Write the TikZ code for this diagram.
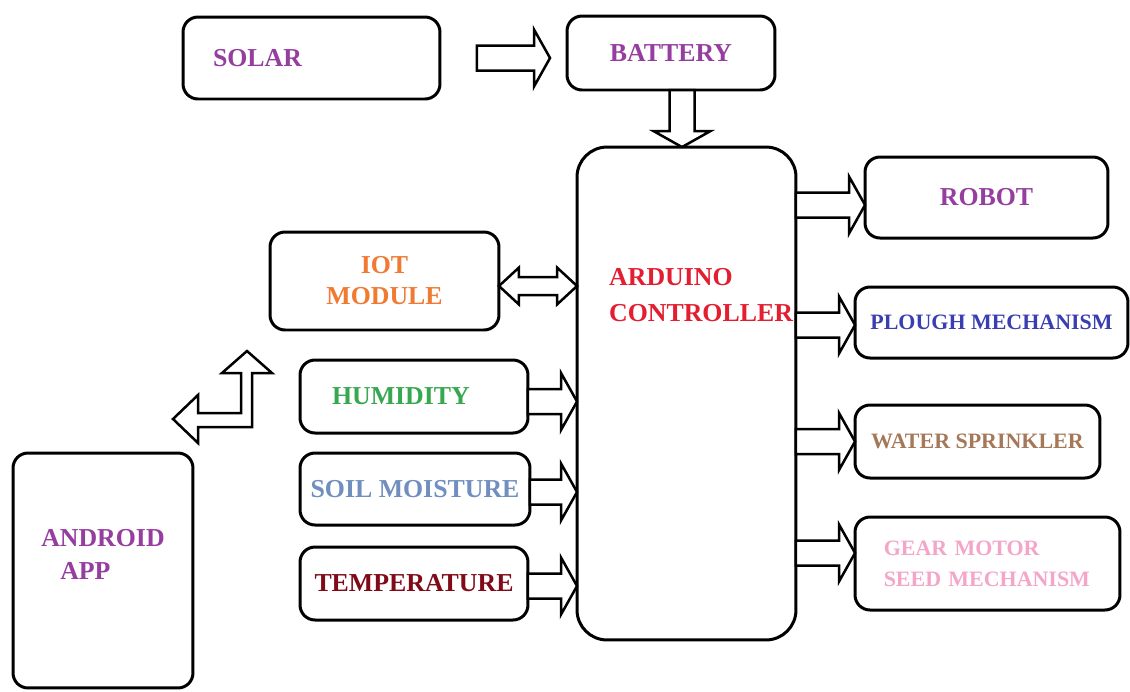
\documentclass[tikz,border=0pt]{standalone}
\usepackage{fontspec}
\setmainfont{Liberation Serif}
\usepackage{tikz}
\usetikzlibrary{calc}

\definecolor{txtpurple}{RGB}{150,62,160}
\definecolor{txtorange}{RGB}{240,122,50}
\definecolor{txtred}{RGB}{226,30,48}
\definecolor{txtgreen}{RGB}{56,168,80}
\definecolor{txtsteel}{RGB}{112,142,190}
\definecolor{txtmaroon}{RGB}{128,10,24}
\definecolor{txtblue}{RGB}{58,62,176}
\definecolor{txtbrown}{RGB}{164,120,88}
\definecolor{txtpink}{RGB}{244,166,200}

\newcommand{\arrshaft}{0.25cm}
\newcommand{\arrhead}{0.57cm}
\newcommand{\arrlen}{0.32cm}
\newcommand{\dblshaft}{0.18cm}
\newcommand{\dblhead}{0.37cm}
\newcommand{\dbllen}{0.4cm}

% hollow arrow pointing right: tail x of #1, tip x of #2, at the height of #3
\newcommand{\blockright}[3]{%
  \draw[blockarrow] let \p1=#1, \p2=#2, \p3=#3 in
    (\x1,\y3+\arrshaft) -- (\x2-\arrlen,\y3+\arrshaft) -- (\x2-\arrlen,\y3+\arrhead)
    -- (\x2,\y3) -- (\x2-\arrlen,\y3-\arrhead) -- (\x2-\arrlen,\y3-\arrshaft)
    -- (\x1,\y3-\arrshaft) -- cycle;}

% hollow arrow pointing down: tail y of #1, tip y of #2, at the x of #3
\newcommand{\blockdown}[3]{%
  \draw[blockarrow] let \p1=#1, \p2=#2, \p3=#3 in
    (\x3-\arrshaft,\y1) -- (\x3-\arrshaft,\y2+\arrlen) -- (\x3-\arrhead,\y2+\arrlen)
    -- (\x3,\y2) -- (\x3+\arrhead,\y2+\arrlen) -- (\x3+\arrshaft,\y2+\arrlen)
    -- (\x3+\arrshaft,\y1) -- cycle;}

% hollow arrow with two heads: from x of #1 to x of #2, at the height of #3
\newcommand{\blockboth}[3]{%
  \draw[blockarrow] let \p1=#1, \p2=#2, \p3=#3 in
    (\x1,\y3) -- (\x1+\dbllen,\y3+\dblhead) -- (\x1+\dbllen,\y3+\dblshaft)
    -- (\x2-\dbllen,\y3+\dblshaft) -- (\x2-\dbllen,\y3+\dblhead) -- (\x2,\y3)
    -- (\x2-\dbllen,\y3-\dblhead) -- (\x2-\dbllen,\y3-\dblshaft)
    -- (\x1+\dbllen,\y3-\dblshaft) -- (\x1+\dbllen,\y3-\dblhead) -- cycle;}

\begin{document}
\begin{tikzpicture}[
    x=0.02cm, y=-0.02cm,
    box/.style={
        rectangle, draw=black, line width=0.06cm, fill=white,
        rounded corners=0.3cm, outer sep=0pt, inner xsep=2pt
    },
    bigtext/.style={font=\bfseries\fontsize{14.7}{#1}\selectfont},
    bigtext/.default=18,
    smalltext/.style={font=\bfseries\fontsize{12.5}{#1}\selectfont},
    smalltext/.default=15,
    blockarrow/.style={
        draw=black, fill=white, line width=0.05cm, line join=miter
    }
]
    \useasboundingbox (0,0) rectangle (1130,691);

    % =========================================================================
    % POWER (TOP)
    % =========================================================================
    \node [box, bigtext, text=txtpurple, minimum height=1.64cm, align=left,
           text width=3.94cm, inner xsep=0.6cm] (sol) at (311.5,58) {SOLAR};
    \node [box, bigtext, text=txtpurple, minimum width=4.16cm, minimum height=1.48cm] (bat) at (671,53) {BATTERY};

    % =========================================================================
    % CONTROLLER (MIDDLE)
    % =========================================================================
    \node [box, rounded corners=0.6cm, minimum width=4.38cm, minimum height=9.86cm] (ctrl) at (686.5,393.5) {};
    \node [bigtext=20.5, text=txtred, align=left, anchor=west] (ctrl_txt)
          at ([xshift=0.52cm, yshift=-2.96cm]ctrl.north west) {ARDUINO\\CONTROLLER};

    % =========================================================================
    % INPUTS (LEFT)
    % =========================================================================
    \node [box, bigtext=17.6, text=txtorange, minimum width=4.58cm, minimum height=1.96cm, align=center] (iot) at (384.5,281) {IOT\\MODULE};
    \node [box, bigtext, text=txtgreen, minimum height=1.46cm, align=left,
           text width=3.28cm, inner xsep=0.64cm] (hum) at (414,396.5) {HUMIDITY};
    \node [box, bigtext, text=txtsteel, minimum width=4.6cm, minimum height=1.44cm] (soil) at (415,489) {SOIL MOISTURE};
    \node [box, bigtext, text=txtmaroon, minimum width=4.56cm, minimum height=1.46cm] (temp) at (414,583.5) {TEMPERATURE};
    \node [box, bigtext=18.8, text=txtpurple, minimum width=3.6cm, minimum height=4.7cm, align=left] (app) at (103,570.5) {ANDROID\\\hspace*{0.38cm}APP\\\mbox{}};

    % =========================================================================
    % OUTPUTS (RIGHT)
    % =========================================================================
    \node [box, bigtext, text=txtpurple, minimum width=4.86cm, minimum height=1.62cm] (rob) at (986.5,197.5) {ROBOT};
    \node [box, smalltext, text=txtblue, minimum width=5.46cm, minimum height=1.42cm] (plough) at (991.5,322.5) {PLOUGH MECHANISM};
    \node [box, smalltext, text=txtbrown, minimum width=4.9cm, minimum height=1.46cm, inner xsep=0pt] (sprk) at (977.5,441.5) {WATER SPRINKLER};
    \node [box, smalltext=17.6, text=txtpink, minimum height=1.86cm, align=left,
           text width=4.15cm, inner xsep=0.575cm] (gear) at (987.5,563.5) {\mbox{GEAR MOTOR}\\\mbox{SEED MECHANISM}};

    % =========================================================================
    % FLOWS
    % =========================================================================
    % Solar to Battery, Battery to Controller
    \blockright{([xshift=0.74cm]sol.east)}{([xshift=-0.34cm]bat.west)}{(sol.east)}
    \blockdown{(bat.south)}{(ctrl.north)}{([xshift=0.22cm]bat.south)}

    % IoT module both ways
    \blockboth{(iot.east)}{(ctrl.west)}{([yshift=-0.1cm]iot.east)}

    % Sensors into Controller
    \blockright{(hum.east)}{(ctrl.west)}{([yshift=-0.1cm]hum.east)}
    \blockright{(soil.east)}{(ctrl.west)}{([yshift=-0.06cm]soil.east)}
    \blockright{(temp.east)}{(ctrl.west)}{([yshift=-0.05cm]temp.east)}

    % Controller to actuators
    \blockright{(ctrl.east)}{(rob.west)}{([yshift=-0.15cm]rob.west)}
    \blockright{(ctrl.east)}{(plough.west)}{([yshift=-0.05cm]plough.west)}
    \blockright{(ctrl.east)}{(sprk.west)}{(sprk.west)}
    \blockright{(ctrl.east)}{(gear.west)}{([yshift=0.21cm]gear.west)}

    % Android app <-> IoT module (bent, free ends)
    \coordinate (app_tip) at (173,419);
    \coordinate (iot_tip) at (247,351);
    \draw [blockarrow] (app_tip) -- ++(25,-24) -- ++(0,18) -- ++(43,0) -- ++(0,-40) -- ++(-19,0)
        -- (iot_tip) -- ++(25,22) -- ++(-20,0) -- ++(0,54) -- ++(-54,0) -- ++(0,16) -- cycle;

\end{tikzpicture}
\end{document}
